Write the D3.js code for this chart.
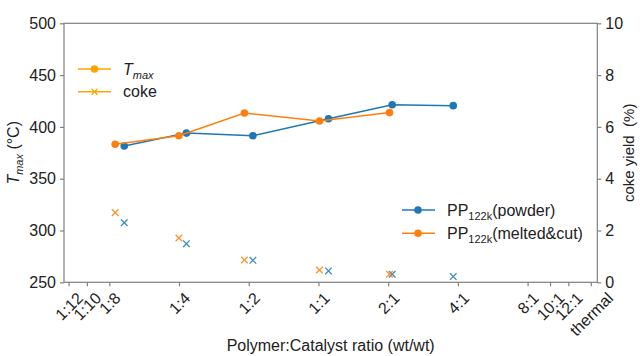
<!DOCTYPE html>
<html>
<head>
<meta charset="utf-8">
<script src="https://cdn.jsdelivr.net/npm/d3@7"></script>
<style>
  html, body { margin: 0; padding: 0; background: #fff; }
  svg { display: block; font-family: "Liberation Sans", Arial, sans-serif; }
</style>
</head>
<body>
<svg id="chart" width="640" height="356"></svg>
<script>
// Polymer:catalyst ratios (wt/wt) as numbers, with the temperature at max rate and coke yield
const powderRatio = [0.145, 0.269, 0.521, 1.105, 2.082, 3.82];
const powderTmax  = [381.6, 394.0, 391.4, 407.9, 421.4, 420.5];
const powderCoke  = [2.30, 1.49, 0.85, 0.44, 0.31, 0.22];

const meltedRatio = [0.1325, 0.2497, 0.479, 1.01, 2.027];
const meltedTmax  = [383.3, 391.4, 413.4, 405.7, 413.8];
const meltedCoke  = [2.69, 1.71, 0.86, 0.475, 0.31];

const xTickValues = [1/12, 1/10, 1/8, 1/4, 1/2, 1, 2, 4, 8, 10, 12, 15];
const xTickLabels = ["1:12", "1:10", "1:8", "1:4", "1:2", "1:1", "2:1", "4:1", "8:1", "10:1", "12:1", "thermal"];
const leftTicks  = [250, 300, 350, 400, 450, 500];
const rightTicks = [0, 2, 4, 6, 8, 10];

const BLUE = "#1f77b4", ORANGE = "#ff7f0e", GOLD = "#ffa500";
const AXIS = "#808080", TEXT = "#222";

const svg = d3.select("#chart");
const m = { left: 64, right: 597.3, top: 23.3, bottom: 282.3 };

const x = d3.scaleLog().base(2).domain([Math.pow(2, -3.65), 16]).range([m.left, m.right]);
const yT = d3.scaleLinear().domain([250, 500]).range([m.bottom, m.top]);
const yC = d3.scaleLinear().domain([0, 10]).range([m.bottom, m.top]);

// Frame
svg.append("rect")
  .attr("x", m.left).attr("y", m.top)
  .attr("width", m.right - m.left).attr("height", m.bottom - m.top)
  .attr("fill", "none").attr("stroke", AXIS).attr("stroke-width", 1.2);

function styleAxis(g) {
  g.select(".domain").remove();
  g.selectAll(".tick line").attr("stroke", AXIS).attr("stroke-width", 1.2);
  g.selectAll(".tick text").attr("fill", TEXT).attr("font-size", 16);
}

// Left axis
svg.append("g").attr("transform", `translate(${m.left},0)`)
  .call(d3.axisLeft(yT).tickValues(leftTicks).tickSize(4).tickPadding(4))
  .call(styleAxis);

// Right axis
svg.append("g").attr("transform", `translate(${m.right},0)`)
  .call(d3.axisRight(yC).tickValues(rightTicks).tickSize(4).tickPadding(4))
  .call(styleAxis);

// Bottom axis with rotated labels centred on ticks
const xAxisG = svg.append("g").attr("transform", `translate(0,${m.bottom})`)
  .call(d3.axisBottom(x).tickValues(xTickValues).tickSize(4)
        .tickFormat((d, i) => xTickLabels[i]))
  .call(styleAxis);
xAxisG.selectAll(".tick text").each(function () {
  const t = d3.select(this);
  const w = this.getComputedTextLength();
  const half = (w + 11) / (2 * Math.SQRT2);
  t.attr("y", 0).attr("dy", "0.35em").attr("text-anchor", "middle")
   .attr("transform", `translate(0,${9 + half}) rotate(-45)`);
});

// Axis titles
const yLab = svg.append("text")
  .attr("transform", `translate(19,${(m.top + m.bottom) / 2}) rotate(-90)`)
  .attr("text-anchor", "middle").attr("fill", TEXT).attr("font-size", 16);
yLab.append("tspan").attr("font-style", "italic").text("T");
yLab.append("tspan").attr("font-style", "italic").attr("font-size", 11).attr("dy", 4).text("max");
yLab.append("tspan").attr("dy", -4).text(" (°C)");

svg.append("text")
  .attr("transform", `translate(634,${(m.top + m.bottom) / 2}) rotate(-90)`)
  .attr("text-anchor", "middle").attr("fill", TEXT).attr("font-size", 15)
  .attr("xml:space", "preserve")
  .text("coke yield  (%)");

svg.append("text")
  .attr("x", (m.left + m.right) / 2).attr("y", 351)
  .attr("text-anchor", "middle").attr("fill", TEXT).attr("font-size", 16)
  .text("Polymer:Catalyst ratio (wt/wt)");

// Series
function drawSeries(ratio, tmax, coke, color) {
  const pts = ratio.map((r, i) => [x(r), yT(tmax[i])]);
  svg.append("path").attr("d", d3.line()(pts))
    .attr("fill", "none").attr("stroke", color).attr("stroke-width", 1.5);
  svg.append("g").selectAll("circle").data(pts).join("circle")
    .attr("cx", d => d[0]).attr("cy", d => d[1]).attr("r", 3.8).attr("fill", color);
  const s = 3.3;
  svg.append("g").selectAll("path").data(ratio.map((r, i) => [x(r), yC(coke[i])])).join("path")
    .attr("d", d => `M${d[0]-s},${d[1]-s}L${d[0]+s},${d[1]+s}M${d[0]-s},${d[1]+s}L${d[0]+s},${d[1]-s}`)
    .attr("stroke", color).attr("stroke-width", 1.3).attr("opacity", 0.85).attr("fill", "none");
}
drawSeries(powderRatio, powderTmax, powderCoke, BLUE);
drawSeries(meltedRatio, meltedTmax, meltedCoke, ORANGE);

// Legend: quantity markers
const leg1 = svg.append("g");
[[69, "dot"], [91.7, "cross"]].forEach(([yy, kind]) => {
  leg1.append("line").attr("x1", 78).attr("x2", 111).attr("y1", yy).attr("y2", yy)
    .attr("stroke", GOLD).attr("stroke-width", 1.5);
  if (kind === "dot") {
    leg1.append("circle").attr("cx", 94.5).attr("cy", yy).attr("r", 3.8).attr("fill", GOLD);
  } else {
    const s = 3;
    leg1.append("path")
      .attr("d", `M${94.5-s},${yy-s}L${94.5+s},${yy+s}M${94.5-s},${yy+s}L${94.5+s},${yy-s}`)
      .attr("stroke", GOLD).attr("stroke-width", 1.3);
  }
});
const t1 = leg1.append("text").attr("x", 123).attr("y", 69).attr("dy", "0.35em")
  .attr("fill", TEXT).attr("font-size", 16);
t1.append("tspan").attr("font-style", "italic").text("T");
t1.append("tspan").attr("font-style", "italic").attr("font-size", 11).attr("dy", 4).text("max");
leg1.append("text").attr("x", 123).attr("y", 91.7).attr("dy", "0.35em")
  .attr("fill", TEXT).attr("font-size", 16).text("coke");

// Legend: sample series
const leg2 = svg.append("g");
[[210, BLUE, "(powder)"], [233.3, ORANGE, "(melted&cut)"]].forEach(([yy, c, label]) => {
  leg2.append("line").attr("x1", 402).attr("x2", 435).attr("y1", yy).attr("y2", yy)
    .attr("stroke", c).attr("stroke-width", 1.5);
  leg2.append("circle").attr("cx", 418).attr("cy", yy).attr("r", 3.8).attr("fill", c);
  const t = leg2.append("text").attr("x", 447).attr("y", yy).attr("dy", "0.35em")
    .attr("fill", TEXT).attr("font-size", 16);
  t.append("tspan").text("PP");
  t.append("tspan").attr("font-size", 11).attr("dy", 4).text("122k");
  t.append("tspan").attr("dy", -4).text(label);
});
</script>
</body>
</html>
